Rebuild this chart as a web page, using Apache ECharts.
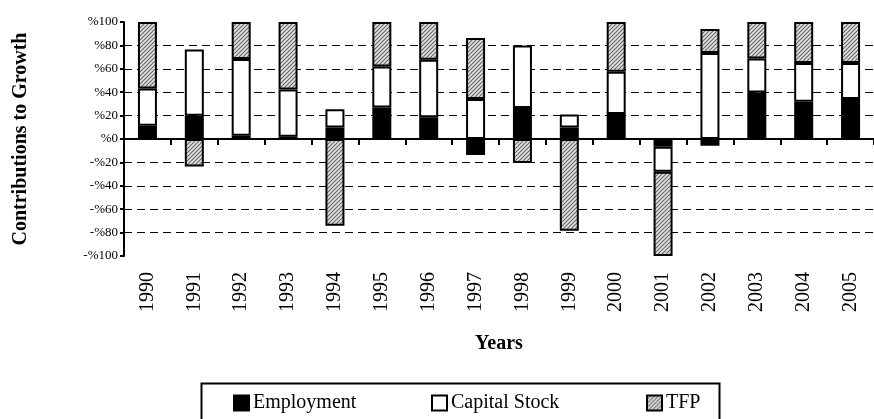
<!DOCTYPE html>
<html>
<head>
<meta charset="utf-8">
<script src="https://cdn.jsdelivr.net/npm/echarts@6/dist/echarts.min.js"></script>
<style>
html,body{margin:0;padding:0;background:#fff;}
#chart{width:874px;height:419px;}
</style>
</head>
<body>
<div id="chart"></div>
<script>
var years = ['1990','1991','1992','1993','1994','1995','1996','1997','1998','1999','2000','2001','2002','2003','2004','2005'];
var employment = [11.4, 19.9, 2.8, 2.0, 9.9, 27.0, 18.5, -13.7, 26.5, 9.9, 21.4, -6.6, -5.7, 39.8, 31.9, 34.2];
var capitalStock = [31.8, 56.6, 65.6, 40.4, 15.6, 35.0, 49.3, 34.2, 53.5, 11.1, 36.1, -21.3, 73.5, 29.1, 33.1, 30.8];
var tfp = [56.8, -23.4, 31.6, 57.6, -74.1, 38.0, 32.2, 52.1, -20.5, -78.4, 42.5, -72.1, 20.5, 31.1, 35.0, 35.0];
var seriesNames = ['Employment', 'Capital Stock', 'TFP'];

function makeHatch() {
  var c = document.createElement('canvas');
  c.width = 4; c.height = 4;
  var ctx = c.getContext('2d');
  ctx.fillStyle = '#e2e2e2';
  ctx.fillRect(0, 0, 4, 4);
  ctx.strokeStyle = '#666';
  ctx.lineWidth = 1.1;
  ctx.beginPath();
  ctx.moveTo(0, 4); ctx.lineTo(4, 0);
  ctx.moveTo(-1, 1); ctx.lineTo(1, -1);
  ctx.moveTo(3, 5); ctx.lineTo(5, 3);
  ctx.stroke();
  return c;
}
var hatch = { image: makeHatch(), repeat: 'repeat' };

var font = '"Liberation Serif", "Times New Roman", serif';
var chart = echarts.init(document.getElementById('chart'), null, {renderer: 'canvas'});

function barSeries(name, data, fill) {
  return {
    name: name, type: 'bar', stack: 'total', data: data,
    xAxisIndex: 0, yAxisIndex: 0,
    barWidth: 19,
    itemStyle: { color: fill, borderColor: '#000', borderWidth: 2 },
    emphasis: { disabled: true }
  };
}

function legendAt(name, left) {
  return {
    data: [{ name: name, icon: 'rect' }], left: left, top: 393, padding: 0,
    itemWidth: 15, itemHeight: 15, itemGap: 0,
    textStyle: { fontFamily: font, fontSize: 20, color: '#000', padding: [0,0,0,-1] },
    itemStyle: { borderColor: '#000', borderWidth: 2 },
    selectedMode: false
  };
}

chart.setOption({
  animation: false,
  backgroundColor: '#fff',
  grid: { left: 124, top: 22, right: -7, bottom: 163, containLabel: false },
  legend: [ legendAt('Employment', 233), legendAt('Capital Stock', 431), legendAt('TFP', 646) ],
  graphic: [{
    type: 'rect', left: 199, top: 381, z: 0,
    shape: { width: 518, height: 60 },
    style: { fill: 'none', stroke: '#000', lineWidth: 2 }
  }],
  xAxis: [{
    type: 'category', data: years, position: 'bottom',
    axisLine: { onZero: true, lineStyle: { color: '#000', width: 2 } },
    axisTick: { show: true, length: 6, lineStyle: { color: '#000', width: 2 } },
    axisLabel: { show: false },
    splitLine: { show: false }
  }, {
    type: 'category', data: years, position: 'bottom',
    axisLine: { show: false, onZero: false },
    axisTick: { show: false },
    axisLabel: { rotate: 90, margin: 16, fontFamily: font, fontSize: 20, color: '#000' },
    name: 'Years', nameLocation: 'middle', nameGap: 78,
    nameTextStyle: { fontFamily: font, fontSize: 20, fontWeight: 'bold', color: '#000' }
  }],
  yAxis: [{
    type: 'value', min: -100, max: 100, interval: 20,
    axisLine: { show: true, onZero: false, lineStyle: { color: '#000', width: 2 } },
    axisTick: { show: true, length: 4, lineStyle: { color: '#000', width: 2 } },
    axisLabel: {
      margin: 6, fontFamily: font, fontSize: 13, color: '#000',
      formatter: function (v) { return v < 0 ? '-%' + Math.abs(v) : '%' + v; }
    },
    splitLine: { show: true, showMinLine: false, showMaxLine: false,
      lineStyle: { color: '#000', width: 1, type: [8, 5] } },
    name: 'Contributions to Growth', nameLocation: 'middle', nameGap: 93,
    nameTextStyle: { fontFamily: font, fontSize: 20, fontWeight: 'bold', color: '#000' }
  }],
  series: [
    barSeries(seriesNames[0], employment, '#000'),
    barSeries(seriesNames[1], capitalStock, '#fff'),
    barSeries(seriesNames[2], tfp, hatch)
  ]
});
</script>
</body>
</html>
